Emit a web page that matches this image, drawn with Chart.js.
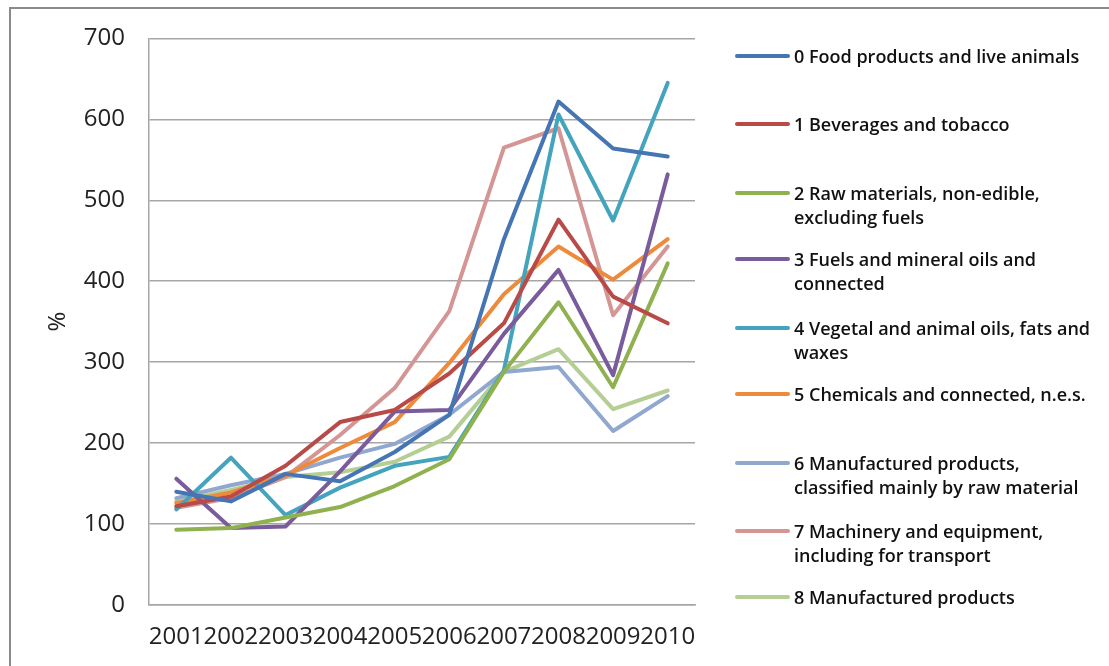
<!DOCTYPE html>
<html>
<head>
<meta charset="utf-8">
<script src="https://cdn.jsdelivr.net/npm/chart.js@4"></script>
<style>
  html, body { margin: 0; padding: 0; background: #fff; width: 1109px; height: 666px; overflow: hidden; }
  #frame { position: absolute; left: 9px; top: 7px; width: 1200px; height: 700px; border: 2px solid #8a8a8a; box-sizing: border-box; }
  #wrap { position: absolute; left: 0; top: 0; width: 1109px; height: 666px; }
  #legend { position: absolute; left: 0; top: 0; width: 1109px; height: 666px; pointer-events: none;
            font-family: "Open Sans", "Liberation Sans", sans-serif; font-size: 18px; font-weight: 600; color: #111; }
  .sw { position: absolute; left: 735px; width: 55px; height: 4px; border-radius: 2px; }
  .tx { position: absolute; left: 794px; line-height: 24px; white-space: nowrap; }
</style>
</head>
<body>
<div id="frame"></div>
<div id="wrap"><canvas id="c" width="1109" height="666"></canvas></div>
<div id="legend"></div>
<script>
const years = ["2001","2002","2003","2004","2005","2006","2007","2008","2009","2010"];
const yTicks = [0, 100, 200, 300, 400, 500, 600, 700];
const yTitle = "%";

const seriesNames = [
  "0 Food products and live animals",
  "1 Beverages and tobacco",
  "2 Raw materials, non-edible,\nexcluding fuels",
  "3 Fuels and mineral oils and\nconnected",
  "4 Vegetal and animal oils, fats and\nwaxes",
  "5 Chemicals and connected, n.e.s.",
  "6 Manufactured products,\nclassified mainly by raw material",
  "7 Machinery and equipment,\nincluding for transport",
  "8 Manufactured products"
];

const food      = [140, 128, 162, 153, 189, 235, 452, 622, 564, 554];
const beverages = [122, 134, 172, 226, 241, 286, 348, 476, 381, 348];
const rawMat    = [ 93,  95, 108, 121, 147, 180, 288, 374, 269, 422];
const fuels     = [156,  95,  97, 165, 239, 241, 335, 414, 284, 532];
const oils      = [118, 182, 111, 145, 172, 183, 290, 606, 475, 645];
const chemicals = [126, 139, 160, 194, 226, 299, 384, 443, 402, 452];
const manufRaw  = [132, 148, 162, 182, 199, 235, 288, 294, 215, 258];
const machinery = [120, 132, 158, 210, 268, 363, 565, 589, 358, 443];
const manuf     = [128, 142, 158, 164, 177, 208, 288, 316, 242, 265];

const seriesData = [food, beverages, rawMat, fuels, oils, chemicals, manufRaw, machinery, manuf];
const colors = ["#4675B4", "#B84A47", "#8FB14F", "#7A5C9C", "#45A4BD", "#EE8A3C", "#90A8D0", "#D49694", "#B5CE94"];

const PLOT_LEFT = 149, PLOT_TOP = 37, PLOT_RIGHT = 695, PLOT_BOTTOM = 605;
const W = 1109, H = 666;

const datasets = seriesData.map((d, i) => ({
  label: seriesNames[i].replace("\n", " "),
  data: d,
  borderColor: colors[i],
  backgroundColor: colors[i],
  borderWidth: 4,
  pointRadius: 0,
  pointHoverRadius: 0,
  tension: 0,
  fill: false,
  borderCapStyle: "round",
  borderJoinStyle: "round"
}));

new Chart(document.getElementById("c"), {
  type: "line",
  data: { labels: years, datasets: datasets },
  options: {
    responsive: false,
    animation: false,
    events: [],
    layout: { padding: { left: 0, top: PLOT_TOP, right: W - PLOT_RIGHT, bottom: 0 } },
    plugins: { legend: { display: false }, tooltip: { enabled: false } },
    scales: {
      x: {
        offset: true,
        grid: { display: false, drawTicks: false },
        border: { display: true, color: "#a6a6a6", width: 1.5 },
        ticks: {
          autoSkip: false, maxRotation: 0, minRotation: 0, padding: 18,
          color: "#222", font: { family: "Open Sans", size: 24 }
        },
        afterFit: (s) => { s.height = H - PLOT_BOTTOM; }
      },
      y: {
        min: 0, max: 700,
        afterBuildTicks: (s) => { s.ticks = yTicks.map(v => ({ value: v })); },
        grid: { color: "#a6a6a6", lineWidth: 1.5, drawTicks: false },
        border: { display: true, color: "#a6a6a6", width: 1.5 },
        ticks: { padding: 24, color: "#222", font: { family: "Open Sans", size: 24 } },
        title: { display: true, text: yTitle, color: "#222", font: { family: "Open Sans", size: 24 }, padding: { top: 44, bottom: 0 } },
        afterFit: (s) => { s.width = PLOT_LEFT; }
      }
    }
  }
});

// HTML legend
const legendTops = [56, 124, 193, 259, 328, 394, 463, 531, 597];
const lg = document.getElementById("legend");
seriesNames.forEach((name, i) => {
  const y = legendTops[i];
  const sw = document.createElement("div");
  sw.className = "sw";
  sw.style.top = (y - 2) + "px";
  sw.style.background = colors[i];
  lg.appendChild(sw);
  const tx = document.createElement("div");
  tx.className = "tx";
  tx.style.top = (y - 12) + "px";
  name.split("\n").forEach((line, k) => {
    if (k > 0) tx.appendChild(document.createElement("br"));
    tx.appendChild(document.createTextNode(line));
  });
  lg.appendChild(tx);
});
</script>
</body>
</html>
